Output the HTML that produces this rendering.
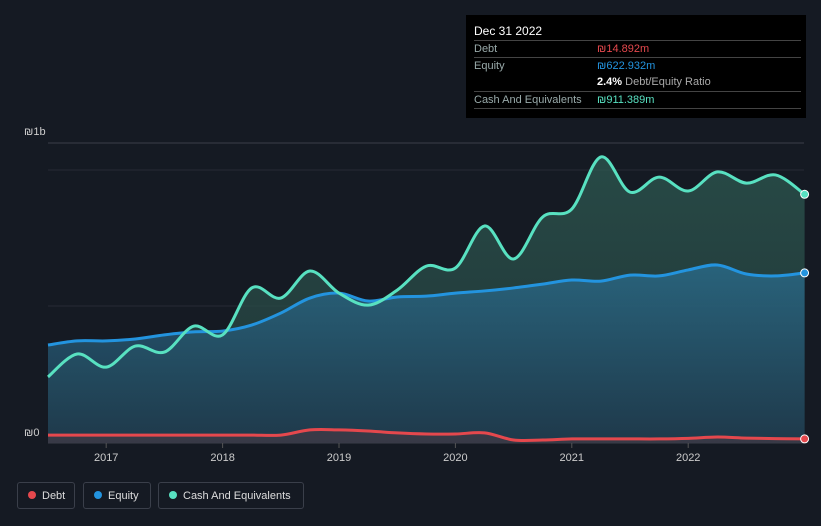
<!DOCTYPE html>
<html><head><meta charset="utf-8"><style>
body{margin:0;background:#151a23;font-family:"Liberation Sans","DejaVu Sans",sans-serif;}
#w{position:relative;width:821px;height:526px;overflow:hidden;background:#151a23}
.tt{position:absolute;left:466px;top:15px;width:340px;height:103px;background:#000;color:#fff;font-size:11px}
.row{position:absolute;left:8px;right:5px;border-top:1px solid #444;height:17px}
.row span{position:absolute;top:2px}
.lg{position:absolute;top:482px;height:27px;border:1px solid #3a3f4a;border-radius:3px;color:#ddd;font-size:11px;line-height:27px;box-sizing:border-box}
.dot{display:inline-block;width:8px;height:8px;border-radius:50%;margin:0 6px 0 10px;vertical-align:-0px}
</style></head><body><div id="w">
<svg id="c" width="821" height="526" style="position:absolute;left:0;top:0"></svg>
<div class="tt">
<div style="position:absolute;left:8px;top:9px;font-size:12px">Dec 31 2022</div>
<div class="row" style="top:25px"><span style="color:#9aa">Debt</span><span style="left:123px;color:#e5484d">₪14.892m</span></div>
<div class="row" style="top:42px"><span style="color:#9aa">Equity</span><span style="left:123px;color:#2394df">₪622.932m</span></div>
<div class="row" style="top:59px;border-top:none"><span style="left:123px"><b>2.4%</b> <span style="position:static;color:#aaa">Debt/Equity Ratio</span></span></div>
<div class="row" style="top:76px"><span style="color:#9aa">Cash And Equivalents</span><span style="left:123px;color:#58e1c1">₪911.389m</span></div>
<div class="row" style="top:93px"></div>
</div>
<div class="lg" style="left:17px;width:58px"><span class="dot" style="background:#e5484d"></span>Debt</div>
<div class="lg" style="left:83px;width:68px"><span class="dot" style="background:#2394df"></span>Equity</div>
<div class="lg" style="left:158px;width:146px"><span class="dot" style="background:#58e1c1"></span>Cash And Equivalents</div>
</div>
<script>
const years=[2017,2018,2019,2020,2021,2022];
const startYear=2016.5;
const cash=[242,326,278,355,333,428,396,568,531,630,549,505,560,648,641,795,674,828,857,1048,919,974,923,993,952,982,911];
const equity=[359,374,374,381,396,407,410,432,476,531,549,520,535,538,549,557,568,582,597,593,615,612,634,652,619,612,623];
const debt=[29,29,29,29,29,29,29,29,29,48,48,44,37,33,33,37,11,11,15,15,15,15,17,22,18,16,15];
const svg=document.getElementById('c');const NS='http://www.w3.org/2000/svg';
const X=t=>48+(t-startYear)*116.4, Y=v=>443-v*0.273;
function el(tag,a,name){const e=document.createElementNS(NS,tag);for(const k in a)e.setAttribute(k,a[k]);


svg.appendChild(e);return e;}
const defs=el('defs',{},'defs');
defs.innerHTML='<linearGradient id="ge" x1="0" y1="0" x2="0" y2="1"><stop offset="0" stop-color="#2a6b8a" stop-opacity="0.8"/><stop offset="1" stop-color="#1e3a4f" stop-opacity="0.8"/></linearGradient><linearGradient id="gc" x1="0" y1="0" x2="0" y2="1"><stop offset="0" stop-color="#2f5e55" stop-opacity="0.7"/><stop offset="1" stop-color="#25403f" stop-opacity="0.7"/></linearGradient>';
[[143,'#3a3f4a'],[170,'#262b34'],[306,'#262b34'],[443,'#3a3f4a']].forEach((g,i)=>el('line',{x1:48,x2:804,y1:g[0],y2:g[0],stroke:g[1]},'gridline-'+i));
el('text',{x:24,y:135,fill:'#ccc','font-size':11},'y-label-top').textContent='₪1b';
el('text',{x:24,y:436,fill:'#ccc','font-size':11},'y-label-zero').textContent='₪0';
years.forEach(yr=>{el('line',{x1:X(yr),x2:X(yr),y1:443,y2:448,stroke:'#555'},'x-tick-'+yr);
const t=el('text',{x:X(yr),y:461,fill:'#ccc','font-size':11,'text-anchor':'middle'},'x-label-'+yr);t.textContent=yr;});
function pts(a){return a.map((v,i)=>[X(startYear+i*0.25),Y(v)]);}
function path(p){let d='M'+p[0];for(let i=0;i<p.length-1;i++){const p0=p[i-1]||p[i],p1=p[i],p2=p[i+1],p3=p[i+2]||p2;
d+=' C'+(p1[0]+(p2[0]-p0[0])/6)+','+(p1[1]+(p2[1]-p0[1])/6)+' '+(p2[0]-(p3[0]-p1[0])/6)+','+(p2[1]-(p3[1]-p1[1])/6)+' '+p2;}return d;}
const n=cash.length-1, xe=X(startYear+n*0.25);
const pc=path(pts(cash)),pe=path(pts(equity)),pd=path(pts(debt));
el('path',{d:pc+' L'+xe+',443 L48,443Z',fill:'url(#gc)'},'cash-area');
el('path',{d:pe+' L'+xe+',443 L48,443Z',fill:'url(#ge)'},'equity-area');
el('path',{d:pd+' L'+xe+',443 L48,443Z',fill:'#4a3a44',opacity:0.6},'debt-area');
el('path',{d:pe,fill:'none',stroke:'#2394df','stroke-width':3},'equity-line');
el('path',{d:pc,fill:'none',stroke:'#58e1c1','stroke-width':3},'cash-line');
el('path',{d:pd,fill:'none',stroke:'#e5484d','stroke-width':3},'debt-line');
[[cash,'#58e1c1','cash-end-dot'],[equity,'#2394df','equity-end-dot'],[debt,'#e5484d','debt-end-dot']].forEach(s=>el('circle',{cx:xe,cy:Y(s[0][n]),r:4,fill:s[1],stroke:'#fff','stroke-width':1},s[2]));
</script></body></html>
